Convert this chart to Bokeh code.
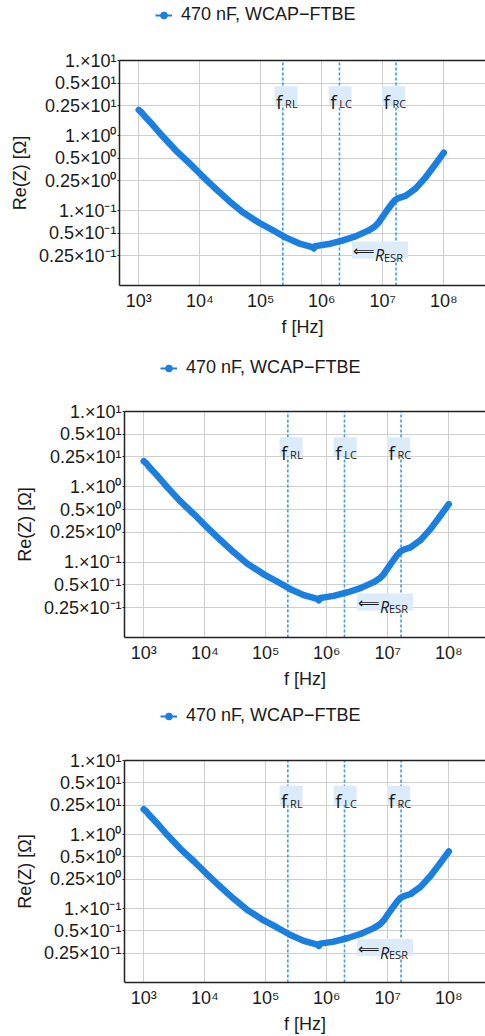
from bokeh.plotting import figure
from bokeh.layouts import column
from bokeh.models import FixedTicker, Legend, LegendItem, LogAxis, Range1d, ColumnDataSource
from bokeh.core.properties import value
from bokeh.embed import file_html
from bokeh.resources import INLINE

# ---- data ----
freq_hz = [1.0e3, 1.10e3, 1.21e3, 1.66e3, 2.42e3, 3.99e3, 6.61e3, 1.09e4, 1.81e4, 2.99e4,
           4.94e4, 9.27e4, 1.53e5, 2.54e5, 4.20e5, 7.00e5, 7.40e5, 7.80e5, 1.30e6,
           2.15e6, 3.56e6, 5.89e6, 7.40e6, 8.59e6, 1.11e7, 1.42e7, 1.60e7, 1.80e7,
           2.36e7, 3.44e7, 5.00e7, 7.29e7, 1.0e8]
re_z_ohm = [2.19, 2.05, 1.86, 1.41, 0.99, 0.64, 0.435, 0.29, 0.196, 0.135,
            0.096, 0.069, 0.0554, 0.0438, 0.0365, 0.0325, 0.0312, 0.0335, 0.0357,
            0.0396, 0.0452, 0.0543, 0.0610, 0.0693, 0.094, 0.124, 0.138, 0.146,
            0.157, 0.196, 0.275, 0.414, 0.59]
series_name = "470 nF, WCAP\u2212FTBE"

marker_names = ["RL", "LC", "RC"]
marker_freqs = [2.3e5, 1.95e6, 1.65e7]
marker_label_freqs = [2.6e5, 2.0e6, 1.5e7]
marker_label_level = 3.4
esr_label_freq = 9.0e6
esr_label_level = 0.0297

y_ticks = [10, 5, 2.5, 1, 0.5, 0.25, 0.1, 0.05, 0.025]
y_tick_labels = ["1.\u00d710\u00b9", "0.5\u00d710\u00b9", "0.25\u00d710\u00b9",
                 "1.\u00d710\u2070", "0.5\u00d710\u2070", "0.25\u00d710\u2070",
                 "1.\u00d710\u207b\u00b9", "0.5\u00d710\u207b\u00b9", "0.25\u00d710\u207b\u00b9"]
x_ticks = [1e3, 1e4, 1e5, 1e6, 1e7, 1e8]
x_tick_labels = ["10\u00b3", "10\u2074", "10\u2075", "10\u2076", "10\u2077", "10\u2078"]
y_limits = (0.01, 10)
x_low_exp = 2.684
px_per_decade = 61.0

CURVE = "#1b7fe0"
DASH = "#3d9be9"
BOX = "#dcebfa"
FONT = "Liberation Sans"
LFONT = "Open Sans"
TXT = "#1a1a1a"
W = 485


def make_legend(height, center_y, left_x):
    lf = figure(width=W, height=height, output_backend="svg", toolbar_location=None,
                x_axis_location=None, y_axis_location=None, min_border=0,
                x_range=Range1d(0, 1), y_range=Range1d(0, 1))
    lf.outline_line_color = None
    lf.grid.visible = False
    src = ColumnDataSource(dict(f=freq_hz, r=re_z_ohm))
    ln = lf.line("f", "r", source=src, line_color=CURVE, line_width=2)
    sc = lf.scatter("f", "r", source=src, size=5, fill_color=CURVE, line_color=CURVE)
    lh = 20
    legend = Legend(items=[LegendItem(label=series_name, renderers=[ln, sc])],
                    location=(left_x, height - center_y - lh / 2), orientation="horizontal",
                    background_fill_alpha=0, border_line_color=None,
                    label_text_font=FONT, label_text_font_size="18px", label_text_color=TXT,
                    glyph_width=17, glyph_height=lh, label_standoff=9, label_height=lh,
                    padding=0, margin=0, spacing=0)
    lf.add_layout(legend, "center")
    return lf


def make_panel(height, b_top, b_bottom, b_left):
    frame_w = W - b_left
    x_hi = 10 ** (x_low_exp + frame_w / px_per_decade)
    p = figure(width=W, height=height, x_axis_type="log", y_axis_type="log",
               x_range=Range1d(10 ** x_low_exp, x_hi), y_range=Range1d(*y_limits),
               output_backend="svg", toolbar_location=None,
               min_border_left=b_left, min_border_right=0,
               min_border_top=b_top, min_border_bottom=b_bottom)
    p.outline_line_color = None

    p.xaxis.ticker = FixedTicker(ticks=x_ticks)
    p.xaxis.major_label_overrides = {t: l for t, l in zip(x_ticks, x_tick_labels)}
    p.yaxis.ticker = FixedTicker(ticks=y_ticks)
    p.yaxis.major_label_overrides = {t: l for t, l in zip(y_ticks, y_tick_labels)}
    for ax in (p.xaxis[0], p.yaxis[0]):
        ax.axis_line_color = "#222222"
        ax.axis_line_width = 1.5
        ax.major_tick_line_color = "#222222"
        ax.minor_tick_line_color = None
        ax.major_label_text_font = FONT
        ax.major_label_text_font_size = "18px"
        ax.major_label_text_color = TXT
        ax.axis_label_text_font = FONT
        ax.axis_label_text_font_size = "18px"
        ax.axis_label_text_font_style = "normal"
        ax.axis_label_text_color = TXT
    p.xaxis.axis_label = "f [Hz]"
    p.yaxis.axis_label = "Re(Z) [\u03a9]"
    p.xaxis.major_tick_in = 0
    p.xaxis.major_tick_out = 0
    p.xaxis.major_label_standoff = 5
    p.xaxis.axis_label_standoff = 3
    p.yaxis.major_tick_in = 0
    p.yaxis.major_tick_out = 2
    p.yaxis.major_label_standoff = 1
    p.yaxis.axis_label_standoff = 6

    top = LogAxis(ticker=FixedTicker(ticks=[]), axis_line_color="#222222", axis_line_width=1.5,
                  major_tick_in=0, major_tick_out=0, minor_tick_line_color=None,
                  major_label_text_font_size="0px", major_label_standoff=0)
    p.add_layout(top, "above")

    p.grid.grid_line_color = "#cfcfcf"
    p.grid.grid_line_width = 1

    p.segment(x0=marker_freqs, x1=marker_freqs, y0=[y_limits[0]] * 3, y1=[y_limits[1]] * 3,
              line_color=DASH, line_width=1.6, line_dash="3 2")

    src = ColumnDataSource(dict(f=freq_hz, r=re_z_ohm))
    p.line("f", "r", source=src, line_color=CURVE, line_width=6.5, line_join="round", line_cap="round")
    p.scatter("f", "r", source=src, size=5, fill_color=CURVE, line_color=CURVE)

    lvl = [marker_label_level] * len(marker_names)
    p.rect(x=marker_label_freqs, y=lvl, width=23, height=19,
           width_units="screen", height_units="screen", fill_color=BOX, line_color=None)
    p.text(x=marker_label_freqs, y=lvl, text=["f"] * len(marker_names), x_offset=-10, y_offset=6,
           text_align="left", text_baseline="alphabetic", text_font=value(LFONT),
           text_font_size="19px", text_color=TXT)
    p.text(x=marker_label_freqs, y=lvl, text=marker_names, x_offset=-1, y_offset=8,
           text_align="left", text_baseline="alphabetic", text_font=value(LFONT),
           text_font_size="11px", text_color=TXT)

    p.rect(x=[esr_label_freq], y=[esr_label_level], width=56, height=17,
           width_units="screen", height_units="screen", fill_color=BOX, line_color=None)
    p.text(x=[esr_label_freq], y=[esr_label_level], text=["\u27f8"], x_offset=-27, y_offset=1,
           text_align="left", text_baseline="middle", text_font=value("DejaVu Sans"),
           text_font_size="15px", text_color=TXT)
    p.text(x=[esr_label_freq], y=[esr_label_level], text=["R"], x_offset=-5, y_offset=5,
           text_align="left", text_baseline="alphabetic", text_font=value(LFONT),
           text_font_style="italic", text_font_size="16px", text_color=TXT)
    p.text(x=[esr_label_freq], y=[esr_label_level], text=["ESR"], x_offset=4, y_offset=7,
           text_align="left", text_baseline="alphabetic", text_font=value(LFONT),
           text_font_size="11px", text_color=TXT)
    return p


g1 = column(make_legend(35, 15, 36), make_panel(310, 25, 60, 119), spacing=0)
g2 = column(make_legend(40, 23, 36), make_panel(307, 26, 55, 124), spacing=0)
g3 = column(make_legend(40, 24, 36), make_panel(304, 28, 51, 124), spacing=0)
layout = column(g1, g2, g3, spacing=0)

open("out.html", "w").write(file_html(layout, INLINE))
